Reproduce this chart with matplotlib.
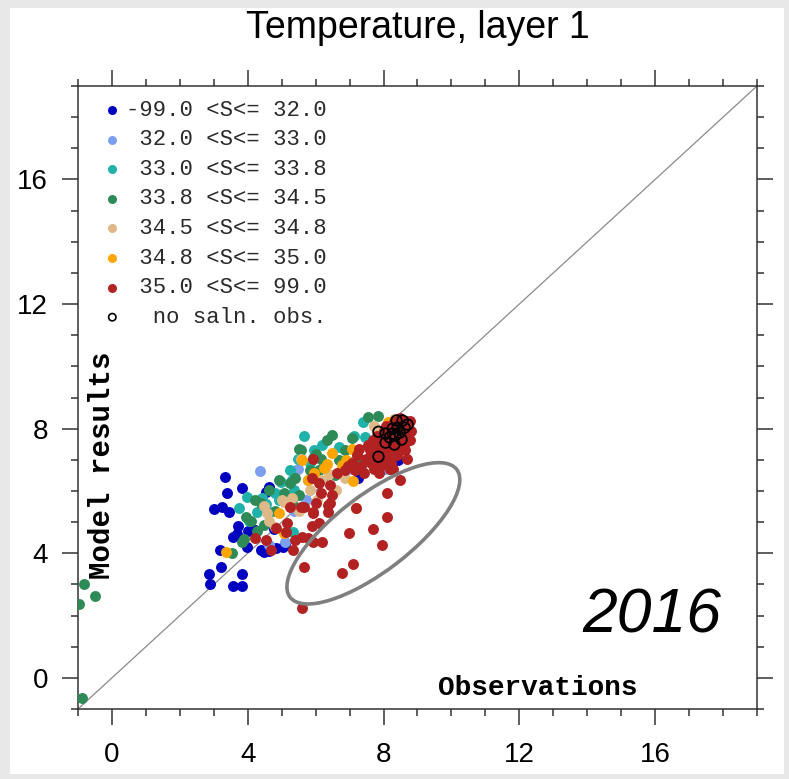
import matplotlib
matplotlib.use("Agg")
import matplotlib.pyplot as plt
import numpy as np
from matplotlib.patches import Ellipse, Rectangle
from matplotlib.transforms import ScaledTranslation
from matplotlib.ticker import MultipleLocator

# ---------------- data (observation, model) ----------------
blue_x = [3.33, 3.39, 3.83, 3.01, 3.24, 3.46, 3.70, 3.56, 3.69, 4.02, 3.98, 3.18, 3.22, 2.86, 2.89,
          3.82, 3.58, 3.82, 4.49, 4.62, 4.40, 4.83, 5.03, 4.76, 8.44, 7.26, 4.64, 4.55, 4.64, 4.20, 5.10]
blue_y = [6.46, 5.95, 6.11, 5.41, 5.47, 5.31, 4.86, 4.51, 4.61, 4.70, 4.19, 4.09, 3.55, 3.32, 3.01,
          3.32, 2.94, 2.94, 4.03, 6.08, 4.09, 4.16, 4.19, 4.77, 6.98, 6.40, 6.12, 5.98, 4.06, 4.75, 4.30]

lblue_x = [4.35, 5.49, 5.73, 5.11, 7.08, 8.03, 4.64, 5.37]
lblue_y = [6.65, 6.72, 5.70, 4.35, 6.72, 6.72, 4.25, 5.37]

teal_x = [5.67, 3.99, 4.28, 4.55, 4.64, 4.79, 5.23, 5.29, 5.35, 5.96, 6.20, 7.38, 7.44, 7.14, 4.99,
          5.32, 5.47, 3.75, 4.43, 6.70, 5.82, 4.05, 4.93]
teal_y = [7.78, 5.79, 5.31, 5.57, 5.31, 5.92, 6.66, 6.34, 6.02, 7.30, 7.46, 8.20, 7.72, 7.78, 6.30,
          4.67, 7.04, 5.44, 5.76, 7.40, 6.91, 5.05, 5.70]

green_x = [5.52, 6.32, 6.49, 7.53, 7.85, 7.08, 3.96, 4.11, 5.08, 5.29, 5.76, 5.91, 6.17, 3.55, 3.84,
           5.58, 6.02, 7.79, 4.20, 4.40, 4.26, 3.90, 5.23, 5.38, 4.64, 4.93, 6.11, 6.70, 6.85, 7.23,
           7.29, 6.56, 4.49, 4.79, 5.52, 5.82, 6.26, 8.18, -0.81, -0.49, -0.96, -0.87]
green_y = [7.36, 7.62, 7.81, 8.39, 8.42, 7.71, 5.15, 5.05, 5.92, 5.60, 6.34, 7.07, 7.04, 4.00, 4.35,
           7.30, 7.20, 6.91, 5.70, 5.60, 4.73, 4.45, 6.24, 6.40, 6.02, 6.34, 6.66, 6.98, 7.30, 7.23,
           6.88, 6.50, 4.90, 5.37, 5.86, 6.66, 6.82, 6.72, 3.00, 2.62, 2.36, -0.66]

tan_x = [5.58, 7.73, 4.58, 4.64, 4.79, 5.08, 5.29, 6.85, 6.61, 5.02, 6.17, 6.40, 6.79, 5.82, 5.52,
         4.49, 6.05, 8.32, 7.94]
tan_y = [7.01, 8.10, 5.28, 5.05, 4.83, 5.63, 5.76, 6.43, 6.02, 5.70, 6.34, 6.56, 6.66, 6.02, 5.37,
         5.53, 5.70, 8.32, 7.94]

orange_x = [5.61, 6.49, 6.90, 7.08, 5.76, 6.32, 4.93, 5.08, 7.11, 7.20, 8.12, 8.41, 5.96, 3.37, 6.79,
            6.26, 8.23, 7.59]
orange_y = [6.98, 7.23, 6.98, 7.36, 6.34, 6.88, 5.28, 4.64, 6.31, 5.44, 8.20, 8.26, 6.59, 4.03, 6.82,
            6.75, 7.62, 7.46]

red_x = [7.06, 7.23, 7.35, 7.47, 7.59, 7.64, 7.76, 7.82, 7.88, 7.97, 8.03, 8.06, 8.12, 8.18, 8.23,
         8.29, 8.35, 8.41, 8.47, 8.53, 8.59, 8.65, 8.71, 8.77, 8.32, 8.47, 8.65, 8.12, 7.94, 7.70,
         7.53, 7.29, 7.17, 7.41, 8.23, 8.41, 8.62, 8.82, 8.77, 8.00, 7.82, 8.29, 8.53, 8.35, 8.06,
         7.73, 7.56, 6.94, 6.85, 7.88, 8.18,
         5.91, 6.11, 6.41, 6.47, 6.35, 5.93, 5.58, 5.23, 5.17, 5.14, 4.84, 4.55, 4.22, 5.38, 5.32,
         5.76, 6.11, 6.20, 5.91, 5.61, 5.88, 5.91, 6.35, 6.41, 6.02, 6.17, 5.88, 6.64, 5.67, 7.20,
         6.97, 7.09, 6.79, 5.67, 7.70, 7.94, 8.09, 8.09, 8.47, 8.68, 8.27, 5.61, 4.69]
red_y = [6.91, 7.14, 6.79, 7.04, 7.30, 6.91, 7.14, 7.46, 6.98, 7.30, 7.62, 7.11, 7.39, 7.78, 7.23,
         7.55, 7.94, 7.36, 7.68, 8.00, 7.46, 7.78, 8.10, 7.62, 8.20, 8.33, 8.26, 7.04, 6.82, 7.62,
         7.46, 7.36, 6.66, 6.59, 6.91, 7.14, 7.30, 7.94, 8.26, 7.94, 7.78, 7.78, 8.13, 7.49, 8.07,
         6.72, 6.98, 6.79, 6.66, 6.59, 6.72,
         7.04, 6.27, 6.18, 5.86, 5.54, 5.28, 5.47, 5.47, 4.96, 4.67, 4.80, 4.41, 4.48, 4.41, 4.09,
         4.48, 4.96, 4.35, 4.35, 4.51, 4.89, 5.31, 5.31, 5.60, 5.60, 5.95, 6.43, 6.59, 5.47, 5.44,
         4.64, 3.64, 3.36, 3.55, 4.77, 4.25, 5.15, 5.95, 6.34, 7.04, 6.69, 2.23, 4.09]

nosal_x = [7.85, 7.85, 8.06, 8.18, 8.27, 8.38, 8.56, 8.71, 8.06, 8.27, 8.35, 8.47, 8.41, 8.62, 8.32, 8.53]
nosal_y = [7.90, 7.10, 7.55, 7.72, 7.84, 8.26, 8.26, 8.13, 7.84, 8.00, 7.78, 7.87, 8.03, 8.03, 7.49, 7.65]

legend_labels = ["-99.0 <S<= 32.0", " 32.0 <S<= 33.0", " 33.0 <S<= 33.8", " 33.8 <S<= 34.5",
                 " 34.5 <S<= 34.8", " 34.8 <S<= 35.0", " 35.0 <S<= 99.0", "  no saln. obs."]
colors = ["#0000c0", "#7d9ff0", "#20b2aa", "#2e8b57", "#deb887", "#ffa500", "#b22222"]

major_ticks = [0, 4, 8, 12, 16]
axis_min, axis_max = -1, 19

# ---------------- figure ----------------
W, H = 789, 779
fig = plt.figure(figsize=(W / 100, H / 100), dpi=100)
fig.patch.set_facecolor("#e8e8e8")
fig.add_artist(Rectangle((10 / W, 1 - 774 / H), (784 - 10) / W, (774 - 8) / H,
                         transform=fig.transFigure, facecolor="white", edgecolor="none", zorder=-10))

ax = fig.add_axes([78 / W, 1 - 709 / H, (757 - 78) / W, (709 - 86) / H])
ax.set_xlim(axis_min, axis_max)
ax.set_ylim(axis_min, axis_max)

ax.plot([axis_min, axis_max], [axis_min, axis_max], color="#8a8a8a", lw=0.9, zorder=1)

series = [(blue_x, blue_y), (lblue_x, lblue_y), (teal_x, teal_y), (green_x, green_y),
          (tan_x, tan_y), (orange_x, orange_y), (red_x, red_y)]
for (xs, ys), c in zip(series, colors):
    ax.scatter(xs, ys, s=62, color=c, linewidths=0, zorder=3)
ax.scatter(nosal_x, nosal_y, s=58, facecolors="none", edgecolors="black", linewidths=1.3, zorder=4)

# highlight ellipse (size in inches, centred on data point)
ell = Ellipse((0, 0), width=2.10, height=0.76, angle=37.5, fill=False,
              edgecolor="#7f7f7f", lw=2.6, zorder=5,
              transform=fig.dpi_scale_trans + ScaledTranslation(7.70, 4.64, ax.transData))
ax.add_artist(ell)

# ticks
ax.xaxis.set_major_locator(plt.FixedLocator(major_ticks))
ax.yaxis.set_major_locator(plt.FixedLocator(major_ticks))
ax.xaxis.set_minor_locator(MultipleLocator(1))
ax.yaxis.set_minor_locator(MultipleLocator(1))
ax.tick_params(which="both", direction="out", top=True, right=True, labeltop=False, labelright=False,
               color="#333333", width=1.1)
ax.tick_params(which="major", length=11.5)
ax.tick_params(which="minor", length=5.3)
ax.tick_params(axis="x", which="major", pad=12)
ax.tick_params(axis="y", which="major", pad=10)
for lab in ax.get_xticklabels() + ax.get_yticklabels():
    lab.set_fontfamily("Liberation Sans")
    lab.set_fontsize(20)
for sp in ax.spines.values():
    sp.set_color("#333333")
    sp.set_linewidth(1.1)

# legend (manual)
row0 = (709 - 110) / 623
drow = 29.6 / 623
for i, lab in enumerate(legend_labels):
    yy = row0 - i * drow
    if i < len(colors):
        ax.scatter([0.0505], [yy], s=42, color=colors[i], linewidths=0, transform=ax.transAxes,
                   clip_on=False, zorder=6)
    else:
        ax.scatter([0.0505], [yy], s=28, facecolors="none", edgecolors="black", linewidths=1.2,
                   transform=ax.transAxes, clip_on=False, zorder=6)
    ax.text(0.0703, yy, lab, transform=ax.transAxes, ha="left", va="center",
            fontfamily="Liberation Mono", fontsize=16, color="#2a2a2a")

ax.text((538 - 78) / 679, (709 - 695) / 623, "Observations", transform=ax.transAxes,
        ha="center", va="baseline", fontfamily="Liberation Mono", fontweight="bold", fontsize=20)
ax.text((102 - 78) / 679, (709 - 465) / 623, "Model results", transform=ax.transAxes,
        ha="center", va="center", rotation=90, fontfamily="Liberation Mono", fontweight="bold",
        fontsize=21)
ax.text((652 - 78) / 679, (709 - 616) / 623, "2016", transform=ax.transAxes,
        ha="center", va="center", fontfamily="Liberation Sans", fontstyle="italic", fontsize=45)

fig.text(418 / W, 1 - 38 / H, "Temperature, layer 1", ha="center", va="baseline",
         fontfamily="Liberation Sans", fontsize=27)

fig.savefig("out.png", dpi=100, facecolor=fig.get_facecolor())
